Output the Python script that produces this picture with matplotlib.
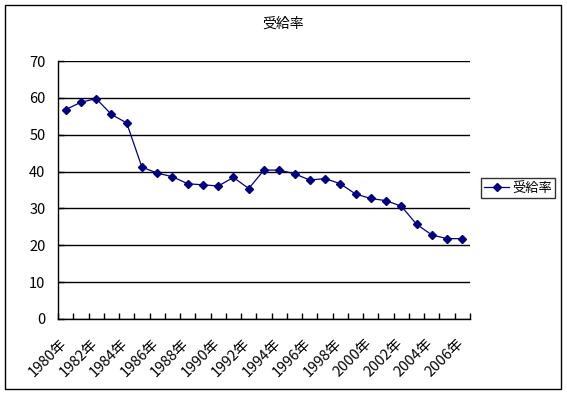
import numpy as np
import matplotlib
matplotlib.use('Agg')
import matplotlib.pyplot as plt
from matplotlib.patches import Rectangle
from matplotlib.transforms import ScaledTranslation

plt.rcParams['font.family'] = ['Noto Sans CJK JP', 'DejaVu Sans']

years = list(range(1980, 2007))
year_labels = ['%d年' % y for y in years]
rate = [56.8, 58.8, 59.8, 55.5, 53.2, 41.2, 39.6, 38.6, 36.7, 36.4,
        36.1, 38.4, 35.4, 40.4, 40.4, 39.4, 37.7, 38.1, 36.7, 33.9,
        32.7, 32.1, 30.6, 25.7, 22.8, 21.8, 21.8]

navy = '#000080'

fig = plt.figure(figsize=(5.67, 3.94), dpi=100)
fig.patches.append(Rectangle((5 / 567, 5 / 394), 556 / 567, 384 / 394,
                             transform=fig.transFigure, fill=False,
                             edgecolor='black', linewidth=1))

ax = fig.add_axes([58 / 567, 1 - 319 / 394, 412 / 567, 258 / 394])
x = np.arange(len(years))
ax.plot(x, rate, color=navy, linewidth=0.9, marker='D', markersize=4.5,
        markerfacecolor=navy, markeredgecolor=navy, label='受給率')

ax.set_xlim(-0.5, len(years) - 0.5)
ax.set_ylim(0, 70)
ax.set_yticks(range(0, 71, 10))
ax.yaxis.grid(True, color='black', linewidth=1)
ax.set_axisbelow(True)

# category labels every 2nd year, rotated like the Excel original
ax.set_xticks([])
ax.set_xticks(np.arange(-0.5, len(years)), minor=True)
ax.tick_params(axis='x', which='minor', direction='in', length=4, width=1,
               labelbottom=False)
lbl_trans = ax.get_xaxis_transform() + ScaledTranslation(-6 / 100, -17 / 100, fig.dpi_scale_trans)
for xi, lab in zip(x[::2], year_labels[::2]):
    ax.text(xi, 0, lab, rotation=45, ha='right', va='top',
            rotation_mode='anchor', fontsize=10.5, transform=lbl_trans)

ax.tick_params(axis='y', direction='in', length=4, width=1, labelsize=10.5, pad=9)

for side in ['top', 'right']:
    ax.spines[side].set_visible(False)
for side in ['left', 'bottom']:
    ax.spines[side].set_linewidth(1)

fig.text(283 / 567, 1 - 24 / 394, '受給率', ha='center', va='center', fontsize=10)

leg = fig.legend(loc='center left', bbox_to_anchor=(481 / 567, 1 - 188 / 394),
                 fontsize=9.5, frameon=True, fancybox=False, handlelength=1.9,
                 borderpad=0.25, handletextpad=0.2, borderaxespad=0)
leg.get_frame().set_edgecolor('black')
leg.get_frame().set_linewidth(1)

fig.savefig('out.png', dpi=100)
